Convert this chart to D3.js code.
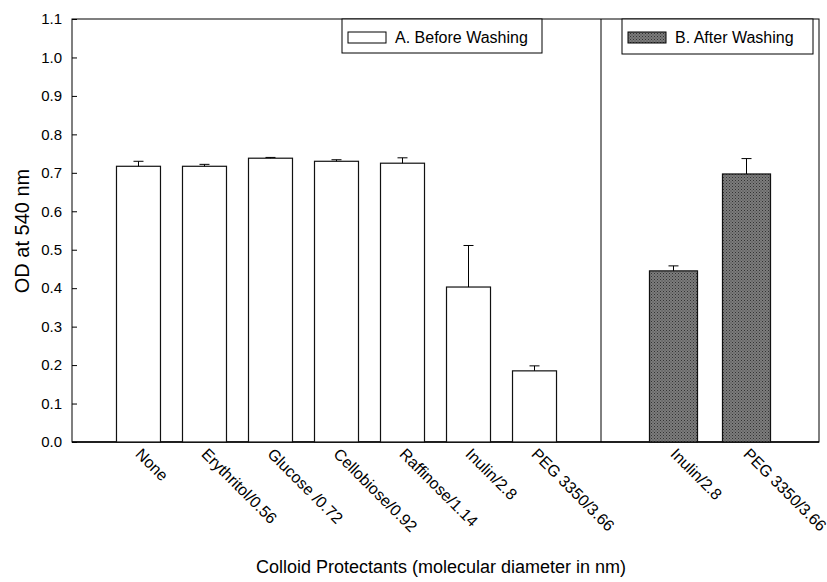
<!DOCTYPE html>
<html>
<head>
<meta charset="utf-8">
<script src="https://cdn.jsdelivr.net/npm/d3@7"></script>
<style>
  body { margin: 0; background: #fff; }
  text { font-family: Arial, "Liberation Sans", Helvetica, sans-serif; fill: #000; }
</style>
</head>
<body>
<div id="chart"></div>
<script>
// panel A: before washing
var catsA = ["None", "Erythritol/0.56", "Glucose /0.72", "Cellobiose/0.92", "Raffinose/1.14", "Inulin/2.8", "PEG 3350/3.66"];
var odA = [0.717, 0.717, 0.738, 0.730, 0.725, 0.403, 0.185];
var errA = [0.013, 0.005, 0.002, 0.004, 0.014, 0.108, 0.013];
// panel B: after washing
var catsB = ["Inulin/2.8", "PEG 3350/3.66"];
var odB = [0.445, 0.697];
var errB = [0.013, 0.040];
var yTicks = [0, 0.1, 0.2, 0.3, 0.4, 0.5, 0.6, 0.7, 0.8, 0.9, 1.0, 1.1];

var svg = d3.select("#chart").append("svg")
  .attr("width", 827)
  .attr("height", 582);

// plot frame edges
var pLeft = 72, pRight = 819, pTop = 19, pBottom = 442, pSplit = 601;

var defs = svg.append("defs");
var pat = defs.append("pattern")
  .attr("id", "dots")
  .attr("width", 3).attr("height", 3)
  .attr("patternUnits", "userSpaceOnUse");
pat.append("rect").attr("width", 3).attr("height", 3).attr("fill", "#7c7c7c");
pat.append("rect").attr("width", 1).attr("height", 1).attr("fill", "#333");
pat.append("rect").attr("x", 1.5).attr("y", 1.5).attr("width", 1).attr("height", 1).attr("fill", "#444");

var yScale = d3.scaleLinear().domain([0, 1.1]).range([pBottom, pTop]);

var xA = d3.scaleBand().domain(catsA).range([pLeft, pSplit])
  .paddingInner(1 / 3).paddingOuter(0.674);
var xB = d3.scaleBand().domain(catsB).range([pSplit, pRight])
  .paddingInner(0.342).paddingOuter(0.664);

// frame
svg.append("rect")
  .attr("x", pLeft).attr("y", pTop)
  .attr("width", pRight - pLeft).attr("height", pBottom - pTop)
  .attr("fill", "none").attr("stroke", "#000").attr("stroke-width", 1);
svg.append("line")
  .attr("x1", pSplit).attr("x2", pSplit).attr("y1", pTop).attr("y2", pBottom)
  .attr("stroke", "#000").attr("stroke-width", 1);

// y axis, ticks pointing inward
var yAxis = d3.axisLeft(yScale)
  .tickValues(yTicks)
  .tickSize(-5)
  .tickPadding(10)
  .tickFormat(d3.format(".1f"));
var yG = svg.append("g").attr("transform", "translate(" + pLeft + ",0)").call(yAxis);
yG.select(".domain").remove();
yG.selectAll("line").attr("stroke", "#000");
yG.selectAll("text").style("font-size", "15px").attr("fill", "#000");

// bottom baseline
svg.append("line")
  .attr("x1", pLeft).attr("x2", pRight).attr("y1", pBottom).attr("y2", pBottom)
  .attr("stroke", "#000").attr("stroke-width", 1.3);

function drawBars(cats, vals, errs, xs, fill) {
  var g = svg.append("g");
  g.selectAll("rect.bar")
    .data(cats)
    .enter()
    .append("rect")
    .attr("class", "bar")
    .attr("x", function(d) { return xs(d); })
    .attr("y", function(d, i) { return yScale(vals[i]); })
    .attr("width", xs.bandwidth())
    .attr("height", function(d, i) { return pBottom - yScale(vals[i]); })
    .attr("fill", fill)
    .attr("stroke", "#111")
    .attr("stroke-width", 1.2);

  g.selectAll("line.err")
    .data(cats)
    .enter()
    .append("line")
    .attr("class", "err")
    .attr("x1", function(d) { return xs(d) + xs.bandwidth() / 2; })
    .attr("x2", function(d) { return xs(d) + xs.bandwidth() / 2; })
    .attr("y1", function(d, i) { return yScale(vals[i]); })
    .attr("y2", function(d, i) { return yScale(vals[i] + errs[i]); })
    .attr("stroke", "#000");

  g.selectAll("line.cap")
    .data(cats)
    .enter()
    .append("line")
    .attr("class", "cap")
    .attr("x1", function(d) { return xs(d) + xs.bandwidth() / 2 - 5; })
    .attr("x2", function(d) { return xs(d) + xs.bandwidth() / 2 + 5; })
    .attr("y1", function(d, i) { return yScale(vals[i] + errs[i]); })
    .attr("y2", function(d, i) { return yScale(vals[i] + errs[i]); })
    .attr("stroke", "#000");

  g.selectAll("text.lab")
    .data(cats)
    .enter()
    .append("text")
    .attr("class", "lab")
    .attr("transform", function(d) {
      return "translate(" + (xs(d) + xs.bandwidth() / 2 - 4) + ",455) rotate(45)";
    })
    .style("font-size", "16px")
    .text(function(d) { return d; });
}

drawBars(catsA, odA, errA, xA, "#fff");
drawBars(catsB, odB, errB, xB, "url(#dots)");

// legends
function legend(x, y, w, h, fill, label) {
  var g = svg.append("g");
  g.append("rect").attr("x", x).attr("y", y).attr("width", w).attr("height", h)
    .attr("fill", "#fff").attr("stroke", "#000");
  g.append("rect").attr("x", x + 6).attr("y", y + 13).attr("width", 38).attr("height", 11)
    .attr("fill", fill).attr("stroke", "#000");
  g.append("text").attr("x", x + 53).attr("y", y + 24)
    .style("font-size", "16px").text(label);
}
legend(342, pTop, 200, 34, "#fff", "A. Before Washing");
legend(622, pTop, 191, 35, "url(#dots)", "B. After Washing");

// axis titles
svg.append("text")
  .attr("transform", "translate(29,231) rotate(-90)")
  .attr("text-anchor", "middle")
  .style("font-size", "20px")
  .text("OD at 540 nm");

svg.append("text")
  .attr("x", 441).attr("y", 573)
  .attr("text-anchor", "middle")
  .style("font-size", "18px")
  .text("Colloid Protectants (molecular diameter in nm)");
</script>
</body>
</html>
